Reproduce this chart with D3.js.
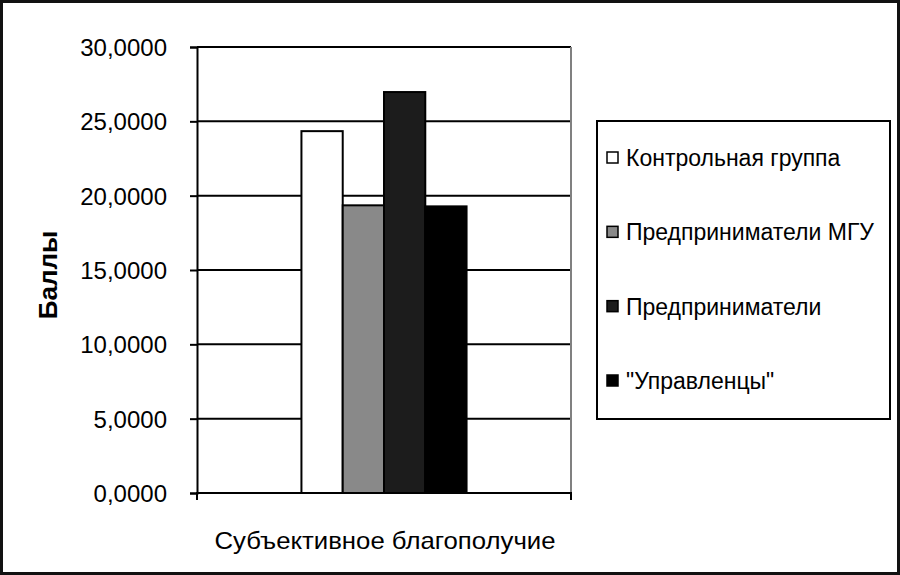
<!DOCTYPE html>
<html lang="ru">
<head>
<meta charset="UTF-8">
<title>Субъективное благополучие</title>
<script src="https://d3js.org/d3.v7.min.js"></script>
<style>
  body { margin: 0; background: #fff; }
  svg text { font-family: "Liberation Sans", Arial, sans-serif; fill: #000; }
</style>
</head>
<body>
<svg id="chart"></svg>
<script>
const categories = ["Субъективное благополучие"];
const seriesNames = ["Контрольная группа", "Предприниматели МГУ", "Предприниматели", "\"Управленцы\""];
const seriesValues = [24.34, 19.35, 26.97, 19.28];
const seriesColors = ["#ffffff", "#898989", "#1c1c1c", "#000000"];
const yTicks = [0, 5, 10, 15, 20, 25, 30];

const width = 900, height = 575;
const svg = d3.select('#chart').attr('width', width).attr('height', height);

// outer frame
svg.append('rect')
  .attr('x', 1.5).attr('y', 1.5)
  .attr('width', width - 3).attr('height', height - 3)
  .attr('fill', '#fff').attr('stroke', '#111').attr('stroke-width', 3);

const plot = { left: 197, right: 571, top: 47, bottom: 493 };

const y = d3.scaleLinear().domain([0, 30]).range([plot.bottom, plot.top]);
const x = d3.scaleBand().domain(categories).range([plot.left, plot.right]);
const xs = d3.scaleBand().domain(seriesNames)
  .range([0, x.bandwidth()]).paddingOuter(2.53).paddingInner(0);

// gridlines
svg.append('g')
  .selectAll('line')
  .data(yTicks.filter(d => d > 0))
  .enter().append('line')
  .attr('x1', plot.left).attr('x2', plot.right)
  .attr('y1', d => y(d)).attr('y2', d => y(d))
  .attr('stroke', '#000').attr('stroke-width', 2);

// right edge of plot area
svg.append('line')
  .attr('x1', plot.right).attr('x2', plot.right)
  .attr('y1', plot.top).attr('y2', plot.bottom)
  .attr('stroke', '#808080').attr('stroke-width', 2);

// bars
svg.append('g')
  .selectAll('rect')
  .data(seriesNames.map((s, i) => ({ s, v: seriesValues[i], c: seriesColors[i], cat: categories[0] })))
  .enter().append('rect')
  .attr('x', d => x(d.cat) + xs(d.s))
  .attr('y', d => y(d.v))
  .attr('width', xs.bandwidth())
  .attr('height', d => y(0) - y(d.v))
  .attr('fill', d => d.c)
  .attr('stroke', '#000').attr('stroke-width', 2);

// y axis
const yAxis = svg.append('g')
  .attr('transform', `translate(${plot.left},0)`)
  .call(d3.axisLeft(y).tickValues(yTicks).tickSize(7).tickPadding(23)
    .tickFormat(d => d3.format('.4f')(d).replace('.', ',')));
yAxis.select('.domain').attr('stroke', '#000').attr('stroke-width', 2);
yAxis.selectAll('.tick line').attr('stroke', '#000').attr('stroke-width', 2);
yAxis.selectAll('.tick text').attr('font-size', 24).attr('dy', '0.35em');

// x axis
const xAxis = svg.append('g')
  .attr('transform', `translate(0,${plot.bottom})`)
  .call(d3.axisBottom(x).tickSize(0).tickFormat(''));
xAxis.select('.domain').attr('stroke', '#000').attr('stroke-width', 2)
  .attr('d', `M${plot.left},7V0H${plot.right}V7`);

svg.append('text')
  .attr('x', 385).attr('y', 549)
  .attr('text-anchor', 'middle').attr('font-size', 24)
  .attr('textLength', 341).attr('lengthAdjust', 'spacingAndGlyphs')
  .text(categories[0]);

svg.append('text')
  .attr('transform', `translate(57,275) rotate(-90)`)
  .attr('text-anchor', 'middle').attr('font-size', 26).attr('font-weight', 'bold')
  .text('Баллы');

// legend
const legend = svg.append('g');
legend.append('rect')
  .attr('x', 597).attr('y', 121).attr('width', 293).attr('height', 298)
  .attr('fill', '#fff').attr('stroke', '#000').attr('stroke-width', 2);

const ly = d3.scalePoint().domain(seriesNames).range([158, 381]);
const items = legend.selectAll('g.item')
  .data(seriesNames.map((s, i) => ({ s, c: seriesColors[i] })))
  .enter().append('g').attr('class', 'item')
  .attr('transform', d => `translate(607,${ly(d.s)})`);
items.append('rect')
  .attr('x', 0).attr('y', -6).attr('width', 11).attr('height', 11)
  .attr('fill', d => d.c).attr('stroke', '#000').attr('stroke-width', 1.5);
items.append('text')
  .attr('x', 19).attr('y', 0).attr('dy', '0.35em')
  .attr('font-size', 23)
  .text(d => d.s);
</script>
</body>
</html>
